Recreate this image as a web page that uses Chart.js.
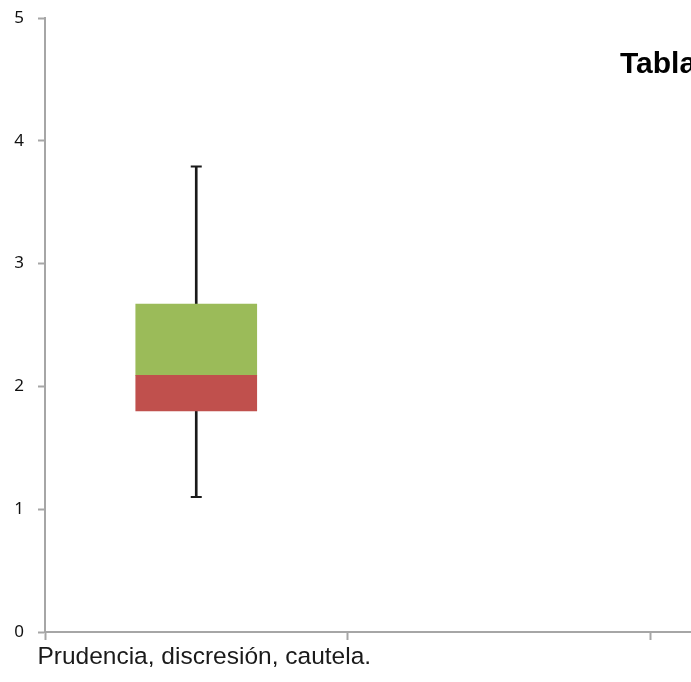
<!DOCTYPE html>
<html>
<head>
<meta charset="utf-8">
<script src="https://cdn.jsdelivr.net/npm/chart.js@4"></script>
<style>
  html, body { margin: 0; padding: 0; background: #ffffff; }
  #wrap { width: 691px; height: 682px; overflow: hidden; position: relative; }
  #inner { width: 960px; height: 682px; position: relative; }
</style>
</head>
<body>
<div id="wrap"><div id="inner"><canvas id="c"></canvas></div></div>
<script>
// ---- data ----
const categories = ["Prudencia, discresión, cautela.", "", ""];
const minimum = [1.10, null, null];
const q1      = [1.80, null, null];
const median  = [2.09, null, null];
const q3      = [2.67, null, null];
const maximum = [3.79, null, null];
const yTicks  = [0, 1, 2, 3, 4, 5];
const titleText = "Tabla";

const pair = (a, b) => a.map((v, i) => (v == null || b[i] == null) ? null : [v, b[i]]);

const axisGray = '#a6a6a6';

const titlePlugin = {
  id: 'cutTitle',
  afterDraw(chart) {
    const ctx = chart.ctx;
    ctx.save();
    ctx.font = 'bold 30px "Liberation Sans", Arial, sans-serif';
    ctx.fillStyle = '#000000';
    ctx.textBaseline = 'alphabetic';
    ctx.textAlign = 'left';
    ctx.fillText(titleText, chart.chartArea.left + 575, 73);
    ctx.restore();
  }
};

new Chart(document.getElementById('c'), {
  type: 'bar',
  data: {
    labels: categories,
    datasets: [
      { label: 'upper whisker', data: pair(q3, maximum), backgroundColor: '#1a1a1a', barThickness: 2, grouped: false, order: 3 },
      { label: 'lower whisker', data: pair(minimum, q1), backgroundColor: '#1a1a1a', barThickness: 2, grouped: false, order: 3 },
      { label: 'Q1-median', data: pair(q1, median), backgroundColor: '#C0504D', barThickness: 121, grouped: false, order: 2 },
      { label: 'median-Q3', data: pair(median, q3), backgroundColor: '#9BBB59', barThickness: 121, grouped: false, order: 2 },
      { type: 'line', label: 'max cap', data: maximum, showLine: false, pointStyle: 'line', pointRadius: 5.5, pointHoverRadius: 5.5, borderColor: '#1a1a1a', pointBorderWidth: 2, borderWidth: 2, order: 1 },
      { type: 'line', label: 'min cap', data: minimum, showLine: false, pointStyle: 'line', pointRadius: 5.5, pointHoverRadius: 5.5, borderColor: '#1a1a1a', pointBorderWidth: 2, borderWidth: 2, order: 1 }
    ]
  },
  options: {
    responsive: true,
    maintainAspectRatio: false,
    animation: false,
    layout: { padding: { top: 18, right: 6, left: 0, bottom: 0 } },
    plugins: { legend: { display: false }, title: { display: false }, tooltip: { enabled: false } },
    scales: {
      x: {
        type: 'category',
        offset: true,
        grid: { display: true, offset: true, drawOnChartArea: false, drawTicks: true, tickLength: 8, tickWidth: 2, tickColor: axisGray },
        border: { display: true, color: axisGray, width: 2 },
        ticks: { color: '#1a1a1a', font: { family: '"Liberation Sans", Arial, sans-serif', size: 24.5 }, padding: 3, labelOffset: 8, maxRotation: 0, autoSkip: false },
        afterFit(scale) { scale.height = 50; scale.paddingLeft = 0; scale.paddingRight = 0; }
      },
      y: {
        min: 0, max: 5,
        afterBuildTicks(scale) { scale.ticks = yTicks.map(v => ({ value: v })); },
        grid: { display: true, drawOnChartArea: false, drawTicks: true, tickLength: 7, tickWidth: 2, tickColor: axisGray },
        border: { display: true, color: axisGray, width: 2 },
        ticks: { color: '#111111', font: { family: '"Noto Sans", sans-serif', size: 17 }, padding: 14 },
        afterFit(scale) { scale.width = 45; scale.paddingTop = 0; scale.paddingBottom = 0; }
      }
    }
  },
  plugins: [titlePlugin]
});
</script>
</body>
</html>
